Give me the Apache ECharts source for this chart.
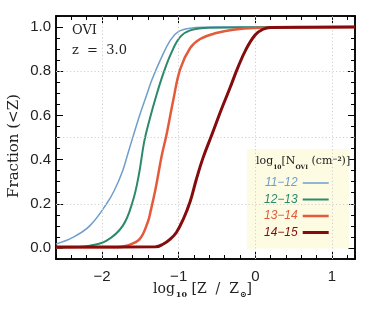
<!DOCTYPE html>
<html><head><meta charset="utf-8">
<script src="https://cdn.jsdelivr.net/npm/echarts@6/dist/echarts.min.js"></script>
<style>html,body{margin:0;padding:0;background:#fff}#c{width:374px;height:312px}</style>
</head><body><div id="c"></div>
<script>
// ---- data ----
var seriesNames = ['11\u221212', '12\u221213', '13\u221214', '14\u221215'];
var x1112 = [-2.6, -2.38, -2.16, -1.94, -1.84, -1.73, -1.66, -1.59, -1.51, -1.43, -1.35, -1.24, -1.11, -1.0, -0.85, -0.5, 1.3];
var y1112 = [0.018, 0.048, 0.10, 0.20, 0.26, 0.35, 0.43, 0.51, 0.60, 0.68, 0.76, 0.85, 0.94, 0.98, 0.995, 1.0, 1.0];
var x1213 = [-2.6, -2.3, -2.16, -1.94, -1.73, -1.60, -1.52, -1.45, -1.38, -1.30, -1.20, -1.10, -0.98, -0.85, -0.6, 1.3];
var y1213 = [0.002, 0.004, 0.01, 0.033, 0.10, 0.21, 0.33, 0.48, 0.58, 0.68, 0.79, 0.88, 0.955, 0.985, 0.997, 1.0];
var x1314 = [-2.6, -1.8, -1.68, -1.51, -1.40, -1.37, -1.30, -1.22, -1.16, -1.07, -0.98, -0.85, -0.72, -0.51, -0.29, 0.0, 1.3];
var y1314 = [0.003, 0.003, 0.01, 0.04, 0.12, 0.16, 0.27, 0.42, 0.51, 0.67, 0.81, 0.905, 0.946, 0.973, 0.988, 0.996, 1.0];
var x1415 = [-2.6, -1.3, -1.2, -1.11, -1.03, -0.94, -0.85, -0.77, -0.68, -0.57, -0.44, -0.33, -0.23, -0.12, 0.0, 0.1, 0.2, 1.3];
var y1415 = [0.004, 0.005, 0.018, 0.04, 0.07, 0.13, 0.21, 0.31, 0.41, 0.51, 0.63, 0.725, 0.815, 0.90, 0.965, 0.99, 0.998, 1.0];
var xMajorTicks = [-2, -1, 0, 1];
var yMajorTicks = [0, 0.2, 0.4, 0.6, 0.8, 1.0];
var xGridValues = [-2, -1, 0, 1];
var yGridValues = [0.2, 0.5, 0.8];

var colors = ['#6e9ecb', '#2b8a6c', '#e35b3b', '#840c0c'];
var widths = [1.5, 2, 2.5, 3];

function pairs(xs, ys) { return xs.map(function (x, i) { return [x, ys[i]]; }); }
var allX = [x1112, x1213, x1314, x1415];
var allY = [y1112, y1213, y1314, y1415];

var SERIF = '"DejaVu Serif", serif';
var SANS = '"Liberation Sans", Arial, sans-serif';

var chart = echarts.init(document.getElementById('c'), null, {renderer: 'canvas'});

function isMult(v, s) { return Math.abs(v / s - Math.round(v / s)) < 1e-6; }

function xAx(pos, major, label) {
  return {
    type: 'value', position: pos, min: -2.6, max: 1.3, interval: 0.2,
    axisLine: {show: true, onZero: false, lineStyle: {color: '#000', width: 1.5}},
    axisTick: major ? {show: true, inside: true, length: 7, customValues: xMajorTicks, lineStyle: {color: '#000', width: 1}}
                    : {show: true, inside: true, length: 4, lineStyle: {color: '#000', width: 1}},
    axisLabel: label ? {show: true, margin: 10, color: '#222', fontFamily: SANS, fontSize: 15,
      formatter: function (v) { if (!isMult(v, 1)) return ''; var r = Math.round(v); return r < 0 ? '\u2212' + (-r) : '' + r; }} : {show: false},
    splitLine: {show: false}
  };
}
function yAx(pos, major, label) {
  return {
    type: 'value', position: pos, min: -0.05, max: 1.05, interval: 0.05,
    axisLine: {show: true, onZero: false, lineStyle: {color: '#000', width: 1.5}},
    axisTick: major ? {show: true, inside: true, length: 7, customValues: yMajorTicks, lineStyle: {color: '#000', width: 1}}
                    : {show: true, inside: true, length: 4, lineStyle: {color: '#000', width: 1}},
    axisLabel: label ? {show: true, margin: 5, color: '#222', fontFamily: SANS, fontSize: 15,
      formatter: function (v) { if (!isMult(v, 0.2) || v < -0.01) return ''; return (Math.round(v * 10) / 10).toFixed(1); }} : {show: false},
    splitLine: {show: false}
  };
}

var series = [{
  name: 'grid', type: 'line', data: [], z: 1, silent: true,
  markLine: {
    silent: true, symbol: 'none', animation: false, label: {show: false},
    lineStyle: {color: '#d0d0d0', type: [1.2, 2.3], width: 1},
    data: xGridValues.map(function (v) { return {xAxis: v}; }).concat(yGridValues.map(function (v) { return {yAxis: v}; }))
  }
}];
for (var i = 0; i < 4; i++) {
  series.push({
    name: seriesNames[i], type: 'line', data: pairs(allX[i], allY[i]),
    symbol: 'none', smooth: 0.4, z: 3 + i,
    lineStyle: {color: colors[i], width: widths[i]}, itemStyle: {color: colors[i]},
    animation: false
  });
}

chart.setOption({
  animation: false,
  grid: {left: 56, top: 16, right: 19, bottom: 53},
  xAxis: [xAx('bottom', false, true), xAx('top', false, false), xAx('bottom', true, false), xAx('top', true, false)],
  yAxis: [yAx('left', false, true), yAx('right', false, false), yAx('left', true, false), yAx('right', true, false)],
  legend: {
    orient: 'vertical', align: 'right', left: 247, top: 149,
    backgroundColor: '#fdfbe2', padding: [28, 19, 10, 17],
    itemWidth: 26, itemHeight: 14, itemGap: 4.5,
    itemStyle: {opacity: 0},
    textStyle: {fontFamily: SANS, fontStyle: 'italic', fontSize: 12},
    data: seriesNames.map(function (n, i) { return {name: n, textStyle: {color: colors[i]}, itemStyle: {opacity: 0}, lineStyle: {width: widths[i], color: colors[i]}}; })
  },
  graphic: [
    {type: 'text', left: 72, top: 24, z: 100, style: {text: 'OVI', font: '13px ' + SERIF, fill: '#222'}},
    {type: 'text', left: 72, top: 44, z: 100, style: {text: 'z  =  3.0', font: '13px ' + SERIF, fill: '#222'}},
    {type: 'text', x: 14, y: 146, rotation: Math.PI / 2, z: 100,
      style: {text: 'Fraction (<Z)', font: '15px ' + SERIF, fill: '#222', align: 'center', verticalAlign: 'middle'}},
    {type: 'text', left: 153, top: 282, z: 100, style: {
      text: '{m|log}{s|10}{m| [Z  /  Z}{s|\u2299}{m|]}',
      rich: {
        m: {font: '14px ' + SERIF, fill: '#222', verticalAlign: 'top', lineHeight: 14},
        s: {font: 'bold 8px ' + SERIF, fill: '#222', verticalAlign: 'top', lineHeight: 8, padding: [9, 0, 0, 1]}
      }}},
    {type: 'text', left: 256, top: 156, z: 100, style: {
      text: '{m|log}{s|10}{m|[N}{s|OVI}{m| (cm}{p|\u22122}{m|)]}',
      rich: {
        m: {font: '11px ' + SERIF, fill: '#222', verticalAlign: 'top', lineHeight: 12},
        s: {font: 'bold 6px ' + SERIF, fill: '#222', verticalAlign: 'top', lineHeight: 6, padding: [8, 0, 0, 0]},
        p: {font: 'bold 6px ' + SERIF, fill: '#222', verticalAlign: 'top', lineHeight: 6, padding: [0, 0, 0, 0]}
      }}}
  ],
  series: series
});
</script></body></html>
